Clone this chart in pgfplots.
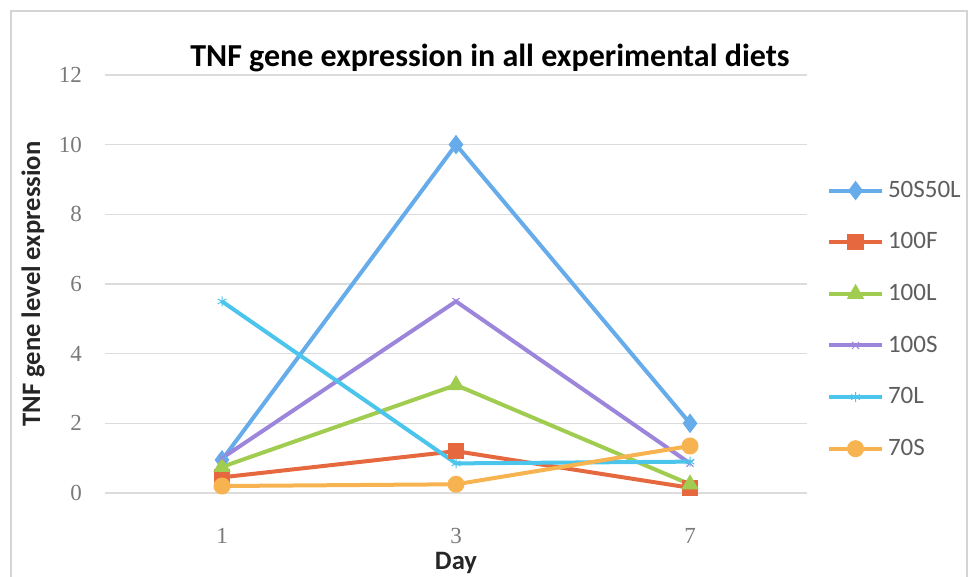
\documentclass[border=0pt]{standalone}
\usepackage{pgfplots}
\pgfplotsset{compat=1.18}
\usepackage{fontspec}
\setmainfont{Carlito}
\newfontfamily\tickfont{Liberation Serif}

\definecolor{cBlue}{HTML}{66ABEA}
\definecolor{cRed}{HTML}{E5683F}
\definecolor{cGreen}{HTML}{A0CC50}
\definecolor{cPurple}{HTML}{9C86DC}
\definecolor{cCyan}{HTML}{4BC5EC}
\definecolor{cOrange}{HTML}{F6B350}
\definecolor{gridgray}{HTML}{DCDCDC}
\definecolor{framegray}{HTML}{D4D4D4}
\definecolor{ticktext}{HTML}{7A7A7A}
\definecolor{legtext}{HTML}{5E5E5E}

% TNF expression by day (days 1, 3, 7 at positions 0, 1, 2)
\pgfplotstableread{
pos S50L50 F100 L100 S100 L70 S70
0   0.95   0.45 0.75 1.00 5.50 0.20
1   10.0   1.20 3.10 5.50 0.85 0.25
2   2.00   0.15 0.25 0.85 0.90 1.35
}\tnfdata

\begin{document}
\begin{tikzpicture}[x=0.5pt,y=0.5pt]
% picture laid out on a 969 x 577 grid, origin bottom left
\path[use as bounding box] (0,0) rectangle (969,577);
\draw[framegray, line width=0.8pt] (11,-10) -- (11,566) -- (967,566) -- (967,-10);

\begin{axis}[
  at={(52.5pt,42pt)}, anchor=south west,
  scale only axis, width=351pt, height=209pt,
  xmin=-0.5, xmax=2.5, ymin=0, ymax=12,
  xtick={0,1,2}, xticklabels={1,3,7},
  ytick={0,2,...,12},
  axis line style={draw=none},
  major tick length=0pt,
  ymajorgrids, grid style={gridgray, line width=0.6pt},
  /pgf/number format/assume math mode=true,
  tick label style={font=\tickfont\fontsize{11.5}{13}\selectfont, text=ticktext},
  yticklabel style={xshift=-8pt},
  xticklabel style={yshift=-14pt},
  clip=false,
  every axis plot/.append style={line width=2pt, mark size=3.5pt,
    mark options={line width=0.5pt}},
  legend style={draw=none, fill=none, at={(1.028,0.757)}, anchor=north west,
    font=\fontsize{12.5}{14}\selectfont\color{legtext}, row sep=12.2pt,
    inner sep=0pt},
  legend cell align=left,
  legend image code/.code={
    \draw[mark repeat=2, mark phase=2, #1] plot coordinates {(0pt,0pt) (13.25pt,0pt) (26.5pt,0pt)};
  },
]
\addplot[cBlue, mark=diamond*, mark size=4.5pt] table[x=pos, y=S50L50] {\tnfdata};
\addlegendentry{50S50L}
\addplot[cRed, mark=square*, mark size=3.8pt] table[x=pos, y=F100] {\tnfdata};
\addlegendentry{100F}
\addplot[cGreen, mark=triangle*, mark size=4.5pt] table[x=pos, y=L100] {\tnfdata};
\addlegendentry{100L}
\addplot[cPurple, mark=x, mark size=2.5pt] table[x=pos, y=S100] {\tnfdata};
\addlegendentry{100S}
\addplot[cCyan, mark=asterisk, mark size=2.5pt] table[x=pos, y=L70] {\tnfdata};
\addlegendentry{70L}
\addplot[cOrange, mark=*, mark size=4pt] table[x=pos, y=S70] {\tnfdata};
\addlegendentry{70S}
\end{axis}

\node[font=\bfseries\fontsize{16}{19}\selectfont] at (490,519) {TNF gene expression in all experimental diets};
\node[font=\bfseries\fontsize{13.3}{15}\selectfont, text=black!85, rotate=90] at (33,293) {TNF gene level expression};
\node[font=\bfseries\fontsize{13.3}{15}\selectfont, text=black!85] at (456,14) {Day};
\end{tikzpicture}
\end{document}
